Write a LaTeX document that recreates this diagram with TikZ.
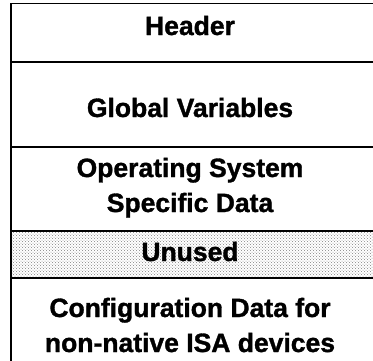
\documentclass[tikz,border=0pt]{standalone}
\usepackage{fontspec}
\setmainfont{Liberation Sans}
\newfontfamily\heavysans{Liberation Sans Bold}[FakeBold=1.3]
\usetikzlibrary{patterns}
\begin{document}
\begin{tikzpicture}[x=1pt,y=-1pt,
  rule/.style={line width=1.3pt,line cap=rect},
  label/.style={anchor=base,inner sep=0pt,font=\fontsize{26.5}{35}\selectfont\heavysans}]
\useasboundingbox (0,0) rectangle (373,360);
% shaded unused area
\fill[pattern=crosshatch dots,pattern color=black!50] (11,231) rectangle (373,278);
% separators between the areas
\draw[rule] (11,3.3) -- (373,3.3);
\draw[rule] (11,62) -- (373,62);
\draw[rule] (11,147) -- (373,147);
\draw[rule] (11,231) -- (373,231);
\draw[rule] (11,278) -- (373,278);
\draw[rule] (11,3.3) -- (11,362);
% area labels
\node[label] (hdr) at (190,35) {Header};
\node[label] (glob) at (190,117) {Global Variables};
\node[label] (os1) at (190,177) {Operating System};
\node[label] (os2) at (190,212) {Specific Data};
\node[label] (unused) at (190,261) {Unused};
\node[label] (cfg1) at (190,317) {Configuration Data for};
\node[label] (cfg2) at (190,352) {non-native ISA devices};
\end{tikzpicture}
\end{document}
